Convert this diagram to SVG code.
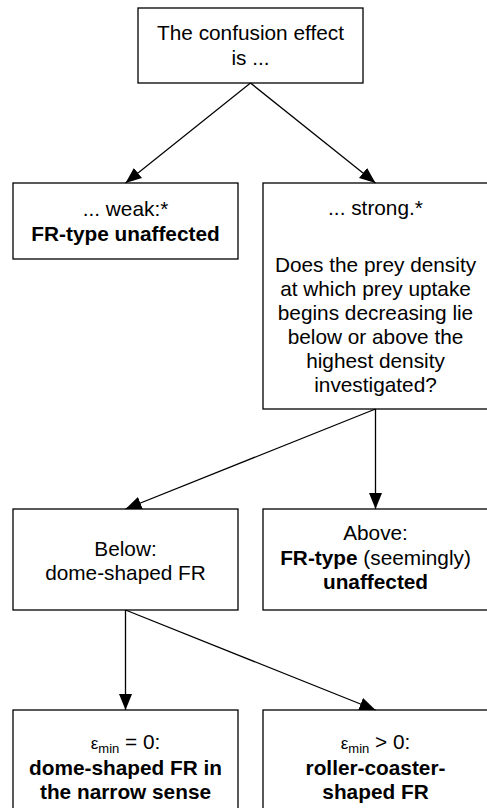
<svg xmlns="http://www.w3.org/2000/svg" width="487" height="808" viewBox="0 0 487 808">
<style>
.box{fill:#fff;stroke:#000;stroke-width:1.3}
text{font-family:"Liberation Sans",Arial,sans-serif;font-size:20.8px;fill:#000;text-anchor:middle}
.b{font-weight:bold}
.sub{font-size:13px}
.conn line{stroke:#000;stroke-width:1.3;fill:none}
</style>
<defs>
<marker id="arr" markerUnits="userSpaceOnUse" markerWidth="16" markerHeight="13" refX="16" refY="6.5" orient="auto">
<path d="M0,0 L16,6.5 L0,13 z" fill="#000"/>
</marker>
</defs>
<rect width="487" height="808" fill="#fff"/>
<g id="n1">
<rect class="box" x="138" y="8" width="225" height="75"/>
<text x="250.5" y="40">The confusion effect</text>
<text x="250.5" y="65">is ...</text>
</g>
<g id="n2">
<rect class="box" x="13" y="183" width="225" height="76"/>
<text x="125.5" y="216">... weak:*</text>
<text x="125.5" y="241" class="b">FR-type unaffected</text>
</g>
<g id="n3">
<rect class="box" x="263" y="183" width="225" height="226"/>
<text x="375.5" y="215">... strong.*</text>
<text x="375.5" y="272">Does the prey density</text>
<text x="375.5" y="296">at which prey uptake</text>
<text x="375.5" y="320">begins decreasing lie</text>
<text x="375.5" y="344">below or above the</text>
<text x="375.5" y="368">highest density</text>
<text x="375.5" y="392">investigated?</text>
</g>
<g id="n4">
<rect class="box" x="13" y="509" width="225" height="101"/>
<text x="125.5" y="556">Below:</text>
<text x="125.5" y="580">dome-shaped FR</text>
</g>
<g id="n5">
<rect class="box" x="263" y="509" width="225" height="101"/>
<text x="375.5" y="540">Above:</text>
<text x="375.5" y="565"><tspan class="b">FR-type</tspan> (seemingly)</text>
<text x="375.5" y="589" class="b">unaffected</text>
</g>
<g id="n6">
<rect class="box" x="13" y="710" width="225" height="110"/>
<text x="125.5" y="749"><tspan font-size="17">ε</tspan><tspan class="sub" dy="4">min</tspan><tspan dy="-4"> = 0:</tspan></text>
<text x="125.5" y="775" class="b">dome-shaped FR in</text>
<text x="125.5" y="799" class="b">the narrow sense</text>
</g>
<g id="n7">
<rect class="box" x="263" y="710" width="225" height="110"/>
<text x="375.5" y="749"><tspan font-size="17">ε</tspan><tspan class="sub" dy="4">min</tspan><tspan dy="-4"> &gt; 0:</tspan></text>
<text x="375.5" y="775" class="b">roller-coaster-</text>
<text x="375.5" y="799" class="b">shaped FR</text>
</g>
<g id="connectors" class="conn">
<line x1="250.5" y1="83" x2="125.5" y2="183" marker-end="url(#arr)"/>
<line x1="250.5" y1="83" x2="375.5" y2="183" marker-end="url(#arr)"/>
<line x1="375.5" y1="409" x2="125.5" y2="509" marker-end="url(#arr)"/>
<line x1="375.5" y1="409" x2="375.5" y2="509" marker-end="url(#arr)"/>
<line x1="125.5" y1="610" x2="125.5" y2="710" marker-end="url(#arr)"/>
<line x1="125.5" y1="610" x2="375.5" y2="710" marker-end="url(#arr)"/>
</g>
</svg>
